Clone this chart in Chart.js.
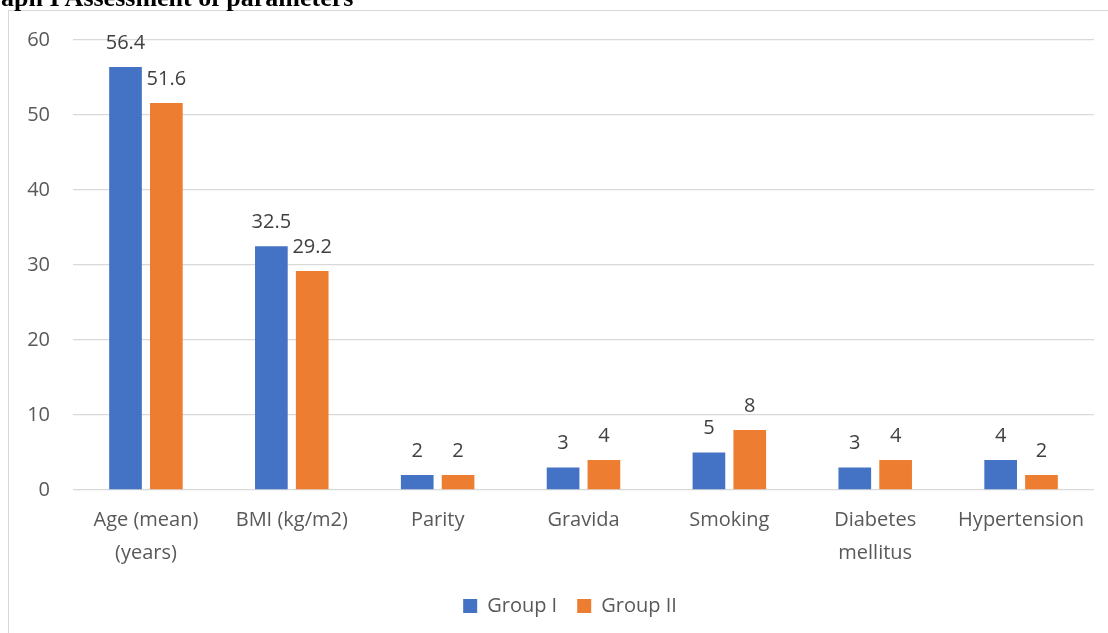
<!DOCTYPE html>
<html>
<head>
<meta charset="utf-8">
<script src="https://cdn.jsdelivr.net/npm/chart.js@4.4.1/dist/chart.umd.min.js"></script>
<style>
  html, body { margin: 0; padding: 0; background: #fff; overflow: hidden; }
  #wrap { position: relative; width: 1108px; height: 633px; }
  #frame { position: absolute; left: 8px; top: 10px; width: 1200px; height: 700px;
           border-left: 1px solid #d9d9d9; border-top: 1px solid #d9d9d9; }
  #title { position: absolute; top: -15px; left: 0; white-space: nowrap;
           font: bold 26px/26px "Liberation Serif", "Times New Roman", serif; color: #000; }
  #chart { position: absolute; left: 0; top: 0; }
</style>
</head>
<body>
<div id="wrap">
  <div id="frame"></div>
  <canvas id="chart" width="1108" height="633"></canvas>
  <div id="title"><span id="cut">Gr</span>aph I Assessment of parameters</div>
</div>
<script>
  // ===== 数据 =====
  const categories = [["Age (mean)", "(years)"], "BMI (kg/m2)", "Parity", "Gravida", "Smoking", ["Diabetes", "mellitus"], "Hypertension"];
  const groupI = [56.4, 32.5, 2, 3, 5, 3, 4];
  const groupII = [51.6, 29.2, 2, 4, 8, 4, 2];
  const seriesNames = ["Group I", "Group II"];
  const yTicks = [0, 10, 20, 30, 40, 50, 60];

  // 标题前两个字母被裁掉
  const cut = document.getElementById("cut");
  document.getElementById("title").style.left = (-cut.getBoundingClientRect().width + 1) + "px";

  const FONT = '"Open Sans", "Noto Sans", sans-serif';

  // 数据标签（柱顶数值）
  const valueLabels = {
    id: "valueLabels",
    afterDatasetsDraw(chart) {
      const ctx = chart.ctx;
      ctx.save();
      ctx.font = `20px ${FONT}`;
      ctx.fillStyle = "#404040";
      ctx.textAlign = "center";
      ctx.textBaseline = "alphabetic";
      chart.data.datasets.forEach((ds, i) => {
        const meta = chart.getDatasetMeta(i);
        meta.data.forEach((el, j) => {
          ctx.fillText(String(ds.data[j]), el.x, el.y - 18.5);
        });
      });
      ctx.restore();
    }
  };

  // 图例整体右移，与原图居中位置一致
  const legendShift = {
    id: "legendShift",
    beforeDraw(chart) {
      const lg = chart.legend;
      if (!lg || lg._shifted) return;
      lg.left += 23;
      lg.right += 23;
      lg.adjustHitBoxes();
      lg._shifted = true;
    }
  };

  new Chart(document.getElementById("chart").getContext("2d"), {
    type: "bar",
    data: {
      labels: categories,
      datasets: [
        { label: seriesNames[0], data: groupI, backgroundColor: "#4472C4" },
        { label: seriesNames[1], data: groupII, backgroundColor: "#ED7D31" }
      ]
    },
    options: {
      responsive: false,
      animation: false,
      devicePixelRatio: 1,
      categoryPercentage: 0.56,
      barPercentage: 0.8,
      layout: { padding: { top: 40, right: 14, bottom: 7, left: 0 } },
      plugins: {
        legend: {
          position: "bottom",
          labels: { boxWidth: 14, boxHeight: 14, padding: 20, color: "#595959", font: { family: FONT, size: 20 } }
        },
        tooltip: { enabled: false }
      },
      scales: {
        x: {
          grid: { display: false, drawTicks: false },
          border: { display: false },
          ticks: { color: "#595959", font: { family: FONT, size: 20, lineHeight: 1.65 }, padding: 14, maxRotation: 0, autoSkip: false },
          afterFit: (s) => { s.height = 86; }
        },
        y: {
          min: 0, max: 60,
          afterBuildTicks: (s) => { s.ticks = yTicks.map(v => ({ value: v })); },
          grid: { color: "#d9d9d9", lineWidth: 1.3, drawTicks: false },
          border: { display: false },
          ticks: { color: "#595959", font: { family: FONT, size: 20 }, padding: 23 },
          afterFit: (s) => { s.width = 73; }
        }
      }
    },
    plugins: [valueLabels, legendShift]
  });
</script>
</body>
</html>
